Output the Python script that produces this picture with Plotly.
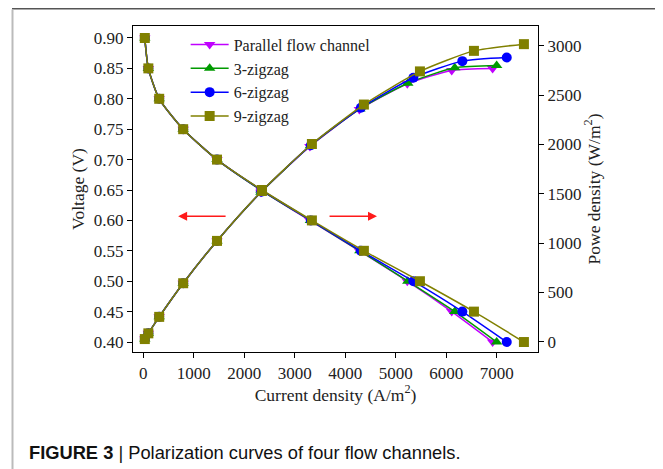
import plotly.graph_objects as go

voltage = [0.90, 0.85, 0.80, 0.75, 0.70, 0.65, 0.60, 0.55, 0.50, 0.45, 0.40]

current_parallel = [30, 100, 315, 790, 1460, 2330, 3300, 4280, 5230, 6110, 6920]
current_3zig = [30, 100, 315, 790, 1460, 2330, 3310, 4290, 5240, 6170, 7000]
current_6zig = [30, 100, 315, 790, 1460, 2340, 3320, 4310, 5350, 6320, 7200]
current_9zig = [30, 100, 315, 790, 1460, 2350, 3340, 4370, 5480, 6550, 7540]

power_parallel = [27, 85, 252, 593, 1022, 1515, 1980, 2354, 2615, 2750, 2768]
power_3zig = [27, 85, 252, 593, 1022, 1515, 1986, 2360, 2620, 2777, 2800]
power_6zig = [27, 85, 252, 593, 1022, 1521, 1992, 2371, 2675, 2844, 2880]
power_9zig = [27, 85, 252, 593, 1022, 1528, 2004, 2404, 2740, 2948, 3016]

names = ["Parallel flow channel", "3-zigzag", "6-zigzag", "9-zigzag"]
colors = ["#c000ff", "#009a00", "#0000ff", "#808000"]
symbols = ["triangle-down", "triangle-up", "circle", "square"]
currents = [current_parallel, current_3zig, current_6zig, current_9zig]
powers = [power_parallel, power_3zig, power_6zig, power_9zig]

x_ticks = [0, 1000, 2000, 3000, 4000, 5000, 6000, 7000]
v_ticks = [0.40, 0.45, 0.50, 0.55, 0.60, 0.65, 0.70, 0.75, 0.80, 0.85, 0.90]
p_ticks = [0, 500, 1000, 1500, 2000, 2500, 3000]

SERIF = "Liberation Serif"

fig = go.Figure()
for name, c, s, cur in zip(names, colors, symbols, currents):
    fig.add_trace(go.Scatter(
        x=cur, y=voltage, name=name, mode="lines+markers",
        line=dict(color=c, width=1.5, shape="spline", smoothing=0.6),
        marker=dict(symbol=s, size=10, color=c),
    ))
for name, c, s, cur, pw in zip(names, colors, symbols, currents, powers):
    fig.add_trace(go.Scatter(
        x=cur, y=pw, name=name, mode="lines+markers", yaxis="y2", showlegend=False,
        line=dict(color=c, width=1.5, shape="spline", smoothing=0.6),
        marker=dict(symbol=s, size=10, color=c),
    ))

axis_common = dict(
    showline=True, linecolor="black", linewidth=1.2, ticks="outside", ticklen=5,
    tickcolor="black", showgrid=False, zeroline=False, automargin=False,
    tickfont=dict(family=SERIF, size=17, color="#222222"),
)
title_font = dict(family=SERIF, size=17.5, color="#222222")

# page body has an 8px margin; figure is sized to fit the 663x469 window
fig.update_layout(
    width=655, height=461,
    margin=dict(l=125, r=125, t=18, b=117),
    paper_bgcolor="white", plot_bgcolor="white",
    xaxis=dict(range=[-204, 7819], tickvals=x_ticks, mirror=True,
               title=dict(text="Current density (A/m<sup>2</sup>)", standoff=4, font=title_font),
               **axis_common),
    yaxis=dict(range=[0.3836, 0.9197], tickvals=v_ticks, tickformat=".2f",
               title=dict(text="Voltage (V)", standoff=4, font=title_font),
               **axis_common),
    yaxis2=dict(range=[-104, 3200], tickvals=p_ticks, overlaying="y", side="right",
                title=dict(text="Powe density (W/m<sup>2</sup>)", standoff=4, font=title_font),
                **axis_common),
    legend=dict(x=0.13, y=0.995, xanchor="left", yanchor="top", itemwidth=38,
                bgcolor="rgba(0,0,0,0)", font=dict(family=SERIF, size=16, color="#222222"),
                tracegroupgap=0),
    showlegend=True,
)

# red direction arrows
fig.add_annotation(x=690, y=0.607, ax=1660, ay=0.607, xref="x", yref="y",
                   axref="x", ayref="y", showarrow=True, arrowhead=2, arrowsize=1.2,
                   arrowwidth=1.5, arrowcolor="#ff1a1a", text="")
fig.add_annotation(x=4630, y=0.607, ax=3660, ay=0.607, xref="x", yref="y",
                   axref="x", ayref="y", showarrow=True, arrowhead=2, arrowsize=1.2,
                   arrowwidth=1.5, arrowcolor="#ff1a1a", text="")


def px(x):
    return (x - 133) / 405


def py(y):
    return (352 - y) / 326


# caption
fig.add_annotation(x=px(27), y=py(452), xref="paper", yref="paper",
                   xanchor="left", yanchor="middle", showarrow=False,
                   text="<b>FIGURE 3</b> | Polarization curves of four flow channels.",
                   font=dict(family="Liberation Sans", size=18.3, color="#111111"))

# outer frame
fig.add_shape(type="line", xref="paper", yref="paper", x0=px(12), x1=px(663), y0=py(8.5), y1=py(8.5),
              line=dict(color="#555555", width=2))
fig.add_shape(type="line", xref="paper", yref="paper", x0=px(12.5), x1=px(12.5), y0=py(9.5), y1=py(470),
              line=dict(color="#bbbbbb", width=2))
fig.add_shape(type="line", xref="paper", yref="paper", x0=px(661.5), x1=px(661.5), y0=py(9.5), y1=py(470),
              line=dict(color="#666666", width=2))

fig.write_html("out.html")
